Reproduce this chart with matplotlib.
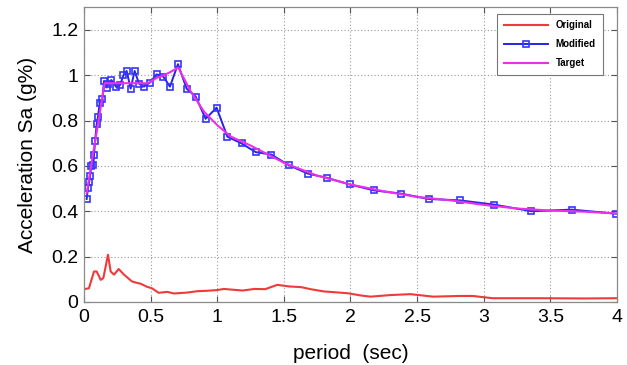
import matplotlib
matplotlib.use("Agg")
import matplotlib.pyplot as plt

plt.rcParams['font.family'] = ['Liberation Sans', 'DejaVu Sans']

# original record spectrum
orig_T = [0.0, 0.037, 0.075, 0.095, 0.125, 0.145, 0.18, 0.2, 0.225, 0.26, 0.3,
          0.36, 0.39, 0.425, 0.475, 0.51, 0.56, 0.625, 0.675, 0.775, 0.85, 0.925,
          1.0, 1.05, 1.19, 1.28, 1.36, 1.45, 1.54, 1.63, 1.7, 1.8, 1.98, 2.08,
          2.15, 2.3, 2.45, 2.62, 2.82, 2.92, 2.99, 3.07, 3.46, 3.76, 4.0]
orig_Sa = [0.056, 0.06, 0.134, 0.134, 0.097, 0.105, 0.208, 0.134, 0.12, 0.145, 0.12,
           0.09, 0.085, 0.08, 0.066, 0.06, 0.04, 0.044, 0.037, 0.041, 0.047, 0.049,
           0.052, 0.057, 0.05, 0.057, 0.056, 0.075, 0.068, 0.065, 0.056, 0.046, 0.038, 0.028,
           0.023, 0.03, 0.034, 0.023, 0.026, 0.026, 0.021, 0.016, 0.016, 0.015, 0.016]

# spectrally matched record
mod_T = [0.02, 0.03, 0.038, 0.045, 0.055, 0.07, 0.075, 0.083, 0.095, 0.105,
         0.118, 0.138, 0.15, 0.17, 0.18, 0.205, 0.243, 0.27, 0.296, 0.32,
         0.35, 0.38, 0.413, 0.45, 0.495, 0.545, 0.595, 0.645, 0.705, 0.77,
         0.838, 0.913, 0.995, 1.076, 1.183, 1.288, 1.406, 1.538, 1.68, 1.826,
         1.995, 2.176, 2.376, 2.588, 2.82, 3.08, 3.358, 3.66, 3.996]
mod_Sa = [0.454, 0.504, 0.528, 0.554, 0.599, 0.602, 0.65, 0.709, 0.783, 0.817,
          0.879, 0.897, 0.975, 0.946, 0.963, 0.979, 0.948, 0.956, 1.0, 1.019,
          0.941, 1.019, 0.963, 0.95, 0.968, 1.004, 0.994, 0.95, 1.049, 0.941,
          0.906, 0.808, 0.857, 0.729, 0.699, 0.661, 0.65, 0.603, 0.566, 0.547,
          0.518, 0.492, 0.478, 0.454, 0.448, 0.429, 0.40, 0.407, 0.389]

# target design spectrum
tgt_T = [0.02, 0.155, 0.48, 0.55, 0.6, 0.65, 0.707, 0.8, 0.9, 1.0, 1.1, 1.25,
         1.5, 1.75, 2.0, 2.25, 2.5, 2.75, 3.0, 3.25, 3.5, 3.75, 4.0]
tgt_Sa = [0.48, 0.965, 0.965, 0.99, 1.0, 1.015, 1.034, 0.93, 0.84, 0.78, 0.73, 0.69,
          0.614, 0.557, 0.518, 0.488, 0.463, 0.448, 0.428, 0.412, 0.403, 0.398, 0.39]

fig = plt.figure(figsize=(6.27, 3.65), dpi=100)
ax = fig.add_axes([0.134, 0.173, 0.850, 0.807])

ax.plot(orig_T, orig_Sa, color='#f03a3a', lw=1.5, label='Original')
ax.plot(mod_T, mod_Sa, color='#2424e6', lw=1.4, marker='s', ms=4.5,
        mfc='none', mec='#3535ff', mew=1.2, label='Modified')
ax.plot(tgt_T, tgt_Sa, color='#ee2ee8', lw=1.5, label='Target')

ax.set_xlim(0, 4)
ax.set_ylim(0, 1.3)
ax.set_xticks([0, 0.5, 1, 1.5, 2, 2.5, 3, 3.5, 4])
ax.set_xticklabels(['0', '0.5', '1', '1.5', '2', '2.5', '3', '3.5', '4'])
ax.set_yticks([0, 0.2, 0.4, 0.6, 0.8, 1, 1.2])
ax.set_yticklabels(['0', '0.2', '0.4', '0.6', '0.8', '1', '1.2'])
ax.tick_params(direction='in', top=True, right=True, labelsize=14,
               length=4, color='#555555')
ax.tick_params(axis='x', pad=5)
ax.tick_params(axis='y', pad=4)
ax.grid(True, linestyle=(0, (1, 2)), color='#9a9a9a', lw=0.8)
for s in ax.spines.values():
    s.set_color('#8a8a8a')
    s.set_linewidth(0.9)

ax.set_xlabel('period  (sec)', fontsize=15, labelpad=13)
ax.set_ylabel('Acceleration Sa (g%)', fontsize=15, labelpad=10)

leg = ax.legend(loc='upper right', prop={'size': 7, 'weight': 'bold'},
                fancybox=False, edgecolor='#777777', framealpha=1,
                handlelength=4.5, borderpad=0.7, labelspacing=0.9,
                bbox_to_anchor=(0.982, 0.995))
leg.get_frame().set_linewidth(0.8)

fig.savefig('out.png', dpi=100)
